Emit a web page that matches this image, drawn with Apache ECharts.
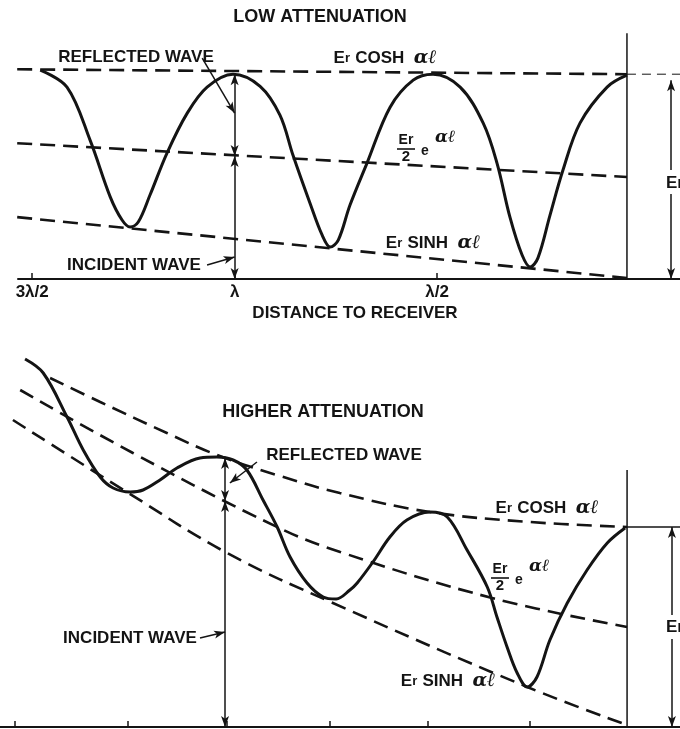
<!DOCTYPE html>
<html>
<head>
<meta charset="utf-8">
<script src="https://cdn.jsdelivr.net/npm/echarts@6/dist/echarts.min.js"></script>
<style>
  html, body { margin: 0; padding: 0; background: #fff; }
  #chart { width: 680px; height: 729px; }
</style>
</head>
<body>
<div id="chart"></div>
<script>
// Distance to receiver is measured in wavelengths (receiver at 0, increasing to the left).
// Amplitudes are in units of Er (the received voltage).

// ---- Low attenuation ----
const lowTicks = [1.5, 1.0, 0.5];
const lowTickLabels = ['3λ/2', 'λ', 'λ/2'];

const lowEnvDist = [1.537, 0.031];
const lowCosh = [1.024, 1.0];
const lowHalfExp = [0.663, 0.498];
const lowSinh = [0.302, 0.005];

const lowWaveDist = [1.480, 1.414, 1.357, 1.307, 1.278, 1.258, 1.238, 1.209, 1.167, 1.117, 1.068, 1.004,
  0.937, 0.888, 0.856, 0.814, 0.784, 0.764, 0.744, 0.715, 0.673, 0.616, 0.559, 0.510,
  0.443, 0.386, 0.352, 0.320, 0.290, 0.270, 0.251, 0.221, 0.189, 0.147, 0.080, 0.031];
const lowWave = [1.020, 0.937, 0.678, 0.400, 0.288, 0.254, 0.278, 0.410, 0.615, 0.810, 0.937, 1.000,
  0.941, 0.800, 0.605, 0.371, 0.215, 0.156, 0.190, 0.361, 0.566, 0.839, 0.971, 1.000,
  0.937, 0.761, 0.566, 0.302, 0.117, 0.059, 0.102, 0.312, 0.532, 0.761, 0.937, 0.995];

// ---- Higher attenuation ----
const highTicks = [1.520, 1.240, 0.995, 0.740, 0.498, 0.245];

const highCoshDist = [1.433, 1.309, 1.144, 1.020, 0.864, 0.716, 0.493, 0.245, 0.005];
const highCosh = [1.745, 1.625, 1.470, 1.360, 1.255, 1.170, 1.075, 1.025, 1.000];

const highHalfExpDist = [1.507, 1.228, 0.871, 0.715, 0.339, 0.005];
const highHalfExp = [1.685, 1.370, 1.000, 0.875, 0.645, 0.500];

const highSinhDist = [1.525, 1.243, 0.995, 0.733, 0.252, 0.005];
const highSinh = [1.535, 1.175, 0.870, 0.620, 0.200, 0.010];

const highWaveDist = [1.495, 1.450, 1.391, 1.351, 1.309, 1.277, 1.235, 1.203, 1.161, 1.119, 1.062, 1.020,
  0.980, 0.946, 0.906, 0.871, 0.839, 0.797, 0.757, 0.725, 0.691, 0.673, 0.634, 0.592, 0.550, 0.493,
  0.450, 0.401, 0.351, 0.327, 0.302, 0.277, 0.252, 0.228, 0.196, 0.153, 0.104, 0.054, 0.010];
const highWave = [1.840, 1.770, 1.550, 1.385, 1.250, 1.195, 1.175, 1.185, 1.235, 1.295, 1.345, 1.350,
  1.335, 1.285, 1.135, 1.000, 0.850, 0.720, 0.650, 0.640, 0.685, 0.720, 0.825, 0.950, 1.035, 1.075,
  1.050, 0.885, 0.700, 0.550, 0.400, 0.270, 0.200, 0.250, 0.435, 0.620, 0.785, 0.920, 0.995];

const zip = (xs, ys) => xs.map((x, i) => [x, ys[i]]);

const INK = '#141414';
const FONT = '"Liberation Sans", Arial, sans-serif';
const dashed = { color: INK, width: 2.6, type: [15, 8], cap: 'butt' };
const solidWave = { color: INK, width: 3 };
const thin = { color: INK, width: 1.5, type: 'solid' };

function envelope(xi, data, smooth) {
  return {
    type: 'line', xAxisIndex: xi, yAxisIndex: xi, data: data,
    showSymbol: false, symbol: 'none', smooth: smooth ? 0.4 : false,
    lineStyle: dashed, silent: true, z: 2
  };
}

// a dimension / leader line between two data points, arrowheads chosen per end
function dim(a, b, startArrow, endArrow) {
  return [
    { coord: a, symbol: startArrow ? 'arrow' : 'none', symbolSize: [6, 11] },
    { coord: b, symbol: endArrow ? 'arrow' : 'none', symbolSize: [6, 11] }
  ];
}

function xAxisFor(gridIndex, min, max, ticks, labels) {
  return {
    type: 'value', gridIndex: gridIndex, inverse: true, min: min, max: max,
    axisLine: { show: true, onZero: true, lineStyle: { color: INK, width: 2 } },
    axisTick: { show: true, inside: true, length: 6, customValues: ticks, lineStyle: { color: INK, width: 1.5 } },
    axisLabel: labels ? {
      show: true, customValues: ticks, margin: 5,
      formatter: v => labels[ticks.findIndex(t => Math.abs(t - v) < 1e-6)] || '',
      color: INK, fontFamily: FONT, fontWeight: 'bold', fontSize: 17
    } : { show: false },
    splitLine: { show: false }
  };
}

function txt(x, y, text, size, extra) {
  return {
    type: 'text', x: x, y: y, silent: true, z: 20,
    style: Object.assign({
      text: text, fill: INK, textAlign: 'center', textVerticalAlign: 'middle',
      fontFamily: FONT, fontWeight: 'bold', fontSize: size || 17
    }, extra || {})
  };
}

const script = { fontFamily: '"DejaVu Serif", serif', fontStyle: 'italic', fontWeight: 'bold', fontSize: 19, fill: INK };

function envLabel(x, y, name) {
  return {
    type: 'text', x: x, y: y, silent: true, z: 20,
    style: {
      text: '{e|E}{r|r} {t|' + name + '} {a|αℓ}',
      textAlign: 'center', textVerticalAlign: 'middle', fill: INK,
      rich: {
        e: { fontFamily: FONT, fontWeight: 'bold', fontSize: 17, fill: INK },
        r: { fontFamily: FONT, fontWeight: 'bold', fontSize: 13, fill: INK },
        t: { fontFamily: FONT, fontWeight: 'bold', fontSize: 17, fill: INK, padding: [0, 2, 0, 2] },
        a: Object.assign({ padding: [0, 0, 0, 4] }, script)
      }
    }
  };
}

function halfExpLabel(x, y) {
  // "Er" over "2", followed by e with superscript αℓ
  return [
    txt(x, y - 9, 'Er', 14),
    { type: 'line', silent: true, z: 20, shape: { x1: x - 9, y1: y, x2: x + 9, y2: y }, style: { stroke: INK, lineWidth: 1.6 } },
    txt(x, y + 8, '2', 15),
    txt(x + 19, y + 2, 'e', 14),
    { type: 'text', x: x + 29, y: y - 11, silent: true, z: 20,
      style: Object.assign({ text: 'αℓ', textAlign: 'left', textVerticalAlign: 'middle' }, script, { fontSize: 17 }) }
  ];
}

const option = {
  backgroundColor: '#ffffff',
  animation: false,
  grid: [
    { left: 18, right: 0, top: 23, bottom: 450, containLabel: false },
    { left: 0, right: 0, top: 327, bottom: 2, containLabel: false }
  ],
  xAxis: [
    xAxisFor(0, -0.1, 1.535, lowTicks, lowTickLabels),
    xAxisFor(1, -0.126, 1.557, highTicks, null)
  ],
  yAxis: [
    { type: 'value', gridIndex: 0, min: 0, max: 1.25, show: false, splitLine: { show: false } },
    { type: 'value', gridIndex: 1, min: 0, max: 2.0, show: false, splitLine: { show: false } }
  ],
  series: [
    // low attenuation
    envelope(0, zip(lowEnvDist, lowCosh), false),
    envelope(0, zip(lowEnvDist, lowHalfExp), false),
    envelope(0, zip(lowEnvDist, lowSinh), false),
    {
      type: 'line', xAxisIndex: 0, yAxisIndex: 0, data: [[0.031, 1.0], [-0.1, 1.0]],
      symbol: 'none', lineStyle: { color: INK, width: 1, type: [9, 6] }, silent: true
    },
    {
      type: 'line', xAxisIndex: 0, yAxisIndex: 0, data: zip(lowWaveDist, lowWave),
      symbol: 'none', smooth: 0.35, lineStyle: solidWave, silent: true, z: 3
    },
    {
      type: 'line', xAxisIndex: 0, yAxisIndex: 0, data: [[0.031, 0], [0.031, 1.2]],
      symbol: 'none', lineStyle: thin, silent: true, z: 4,
      markLine: {
        silent: true, animation: false, label: { show: false },
        lineStyle: thin, emphasis: { disabled: true },
        data: [
          dim([1.0, 1.0], [1.0, 0.60], true, true),
          dim([1.0, 0.60], [1.0, 0.0], true, true),
          dim([1.080, 1.078], [1.0, 0.81], false, true),
          dim([1.068, 0.068], [1.0, 0.107], false, true),
          dim([-0.078, 0.0], [-0.078, 0.97], true, true)
        ]
      }
    },
    // higher attenuation
    envelope(1, zip(highCoshDist, highCosh), true),
    envelope(1, zip(highHalfExpDist, highHalfExp), true),
    envelope(1, zip(highSinhDist, highSinh), true),
    {
      type: 'line', xAxisIndex: 1, yAxisIndex: 1, data: zip(highWaveDist, highWave),
      symbol: 'none', smooth: 0.35, lineStyle: solidWave, silent: true, z: 3
    },
    {
      type: 'line', xAxisIndex: 1, yAxisIndex: 1, data: [[0.005, 0], [0.005, 1.285]],
      symbol: 'none', lineStyle: thin, silent: true, z: 4,
      markLine: {
        silent: true, animation: false, label: { show: false },
        lineStyle: thin, emphasis: { disabled: true },
        data: [
          dim([0.005, 1.0], [-0.126, 1.0], false, false),
          dim([1.0, 1.345], [1.0, 1.13], true, true),
          dim([1.0, 1.13], [1.0, 0.0], true, true),
          dim([0.921, 1.325], [0.988, 1.22], false, true),
          dim([1.062, 0.445], [1.0, 0.475], false, true),
          dim([-0.106, 0.0], [-0.106, 1.0], true, true)
        ]
      }
    }
  ],
  graphic: [
    txt(320, 17, 'LOW ATTENUATION', 18),
    txt(355, 313, 'DISTANCE TO RECEIVER', 17),
    txt(323, 412, 'HIGHER ATTENUATION', 18),
    txt(136, 57, 'REFLECTED WAVE', 17),
    txt(134, 265, 'INCIDENT WAVE', 17),
    envLabel(385, 58, 'COSH'),
    envLabel(433, 243, 'SINH'),
    ...halfExpLabel(406, 149),
    // gap in the right-hand dimension line for its label
    { type: 'rect', silent: true, z: 10, shape: { x: 664, y: 170, width: 16, height: 24 }, style: { fill: '#fff' } },
    txt(666, 183, 'Er', 17, { textAlign: 'left' }),
    txt(344, 455, 'REFLECTED WAVE', 17),
    txt(130, 638, 'INCIDENT WAVE', 17),
    envLabel(547, 508, 'COSH'),
    envLabel(448, 681, 'SINH'),
    ...halfExpLabel(500, 578),
    { type: 'rect', silent: true, z: 10, shape: { x: 664, y: 615, width: 16, height: 24 }, style: { fill: '#fff' } },
    txt(666, 627, 'Er', 17, { textAlign: 'left' })
  ]
};

const chart = echarts.init(document.getElementById('chart'), null, { renderer: 'canvas' });
chart.setOption(option);
</script>
</body>
</html>
